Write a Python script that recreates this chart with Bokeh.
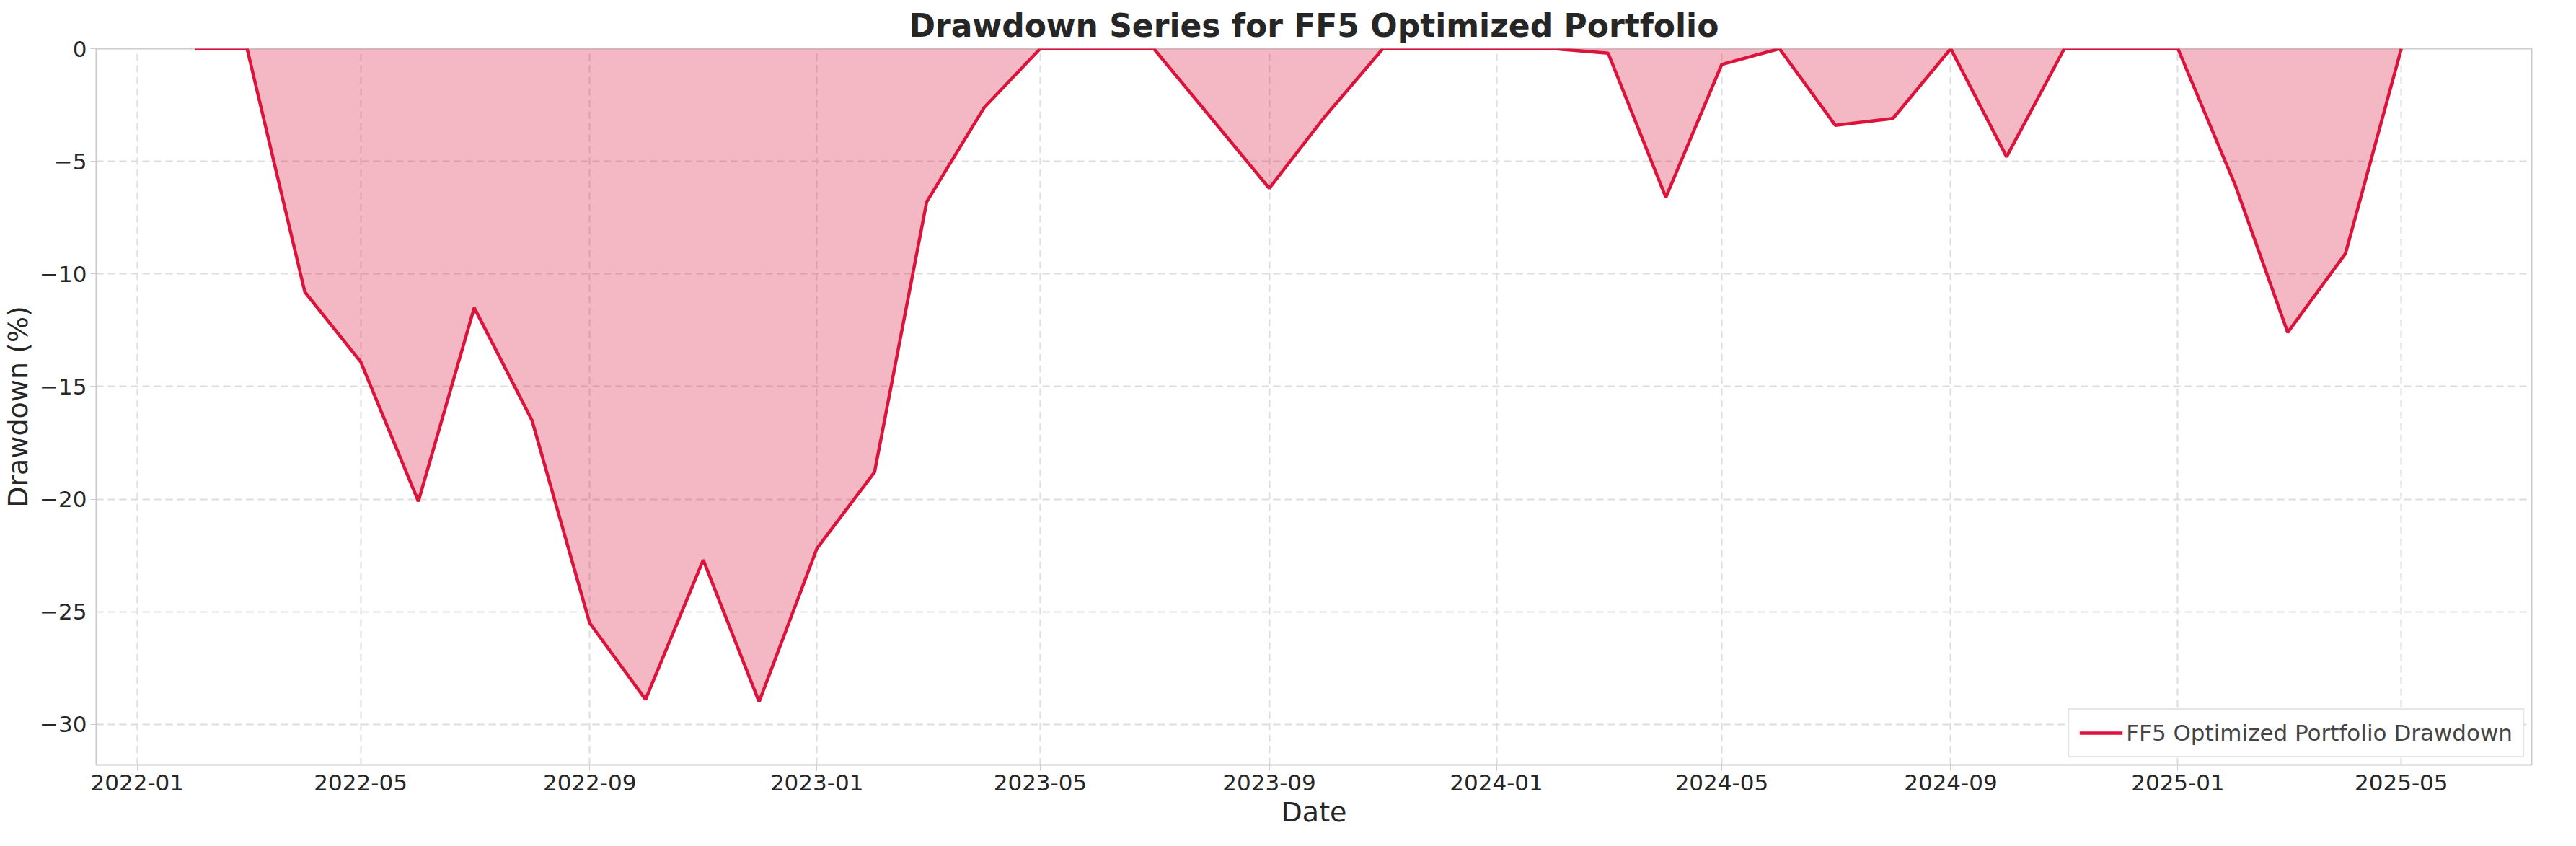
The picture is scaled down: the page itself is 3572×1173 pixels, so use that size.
import pandas as pd
from bokeh.plotting import figure
from bokeh.models import FixedTicker, DatetimeTickFormatter, Range1d, Legend, LegendItem
from bokeh.embed import file_html
from bokeh.resources import INLINE

months = pd.date_range("2022-02-01", "2025-05-01", freq="MS")
drawdown = [0, 0, -10.8, -13.9, -20.1, -11.5, -16.5, -25.5, -28.9, -22.7, -29.0,
            -22.2, -18.8, -6.8, -2.6, 0, 0, 0, -3.1, -6.2, -3.0, 0, 0,
            0, 0, -0.2, -6.6, -0.7, 0, -3.4, -3.1, 0, -4.8, 0, 0,
            0, -6.1, -12.6, -9.1, 0]
xtick_dates = pd.date_range("2022-01-01", "2025-05-01", freq="4MS")
yticks = [0, -5, -10, -15, -20, -25, -30]

F = "DejaVu Sans"
p = figure(width=3550, height=1150, x_axis_type="datetime",
           output_backend="svg", toolbar_location=None,
           title="Drawdown Series for FF5 Optimized Portfolio")
p.min_border_left = 120
p.min_border_right = 40
p.min_border_top = 30
p.min_border_bottom = 30
p.x_range = Range1d(pd.Timestamp("2021-12-10"), pd.Timestamp("2025-07-10"))
p.y_range = Range1d(-31.8, 0)

p.varea(x=months, y1=drawdown, y2=0, fill_color="#DC143C", fill_alpha=0.3)
ln = p.line(months, drawdown, line_color="#DC143C", line_width=4.5)

p.title.text_font = F
p.title.text_font_size = "44px"
p.title.align = "center"
p.title.text_color = "#262626"
p.title.standoff = 14

p.xaxis.ticker = FixedTicker(ticks=[d.value / 1e6 for d in xtick_dates])
p.xaxis.formatter = DatetimeTickFormatter(months="%Y-%m", days="%Y-%m", years="%Y-%m")
p.yaxis.ticker = FixedTicker(ticks=yticks)
p.xaxis.axis_label = "Date"
p.yaxis.axis_label = "Drawdown (%)"
for ax in (p.xaxis, p.yaxis):
    ax.axis_label_text_font = F
    ax.axis_label_text_font_size = "38px"
    ax.axis_label_text_font_style = "normal"
    ax.axis_label_text_color = "#262626"
    ax.major_label_text_font = F
    ax.major_label_text_font_size = "31px"
    ax.major_label_text_color = "#262626"
    ax.axis_line_color = None
    ax.major_tick_line_color = "#cccccc"
    ax.major_tick_out = 8
    ax.minor_tick_line_color = None

p.grid.grid_line_color = "#dddddd"
p.grid.grid_line_dash = "10 6"
p.grid.grid_line_width = 2
p.outline_line_color = "#cccccc"
p.outline_line_width = 2

legend = Legend(items=[LegendItem(label="FF5 Optimized Portfolio Drawdown", renderers=[ln])],
                location="bottom_right")
legend.label_text_font = F
legend.label_text_font_size = "31px"
legend.border_line_color = "#cccccc"
legend.border_line_width = 2
legend.glyph_width = 60
legend.padding = 14
p.add_layout(legend)

open("out.html", "w").write(file_html(p, INLINE))
